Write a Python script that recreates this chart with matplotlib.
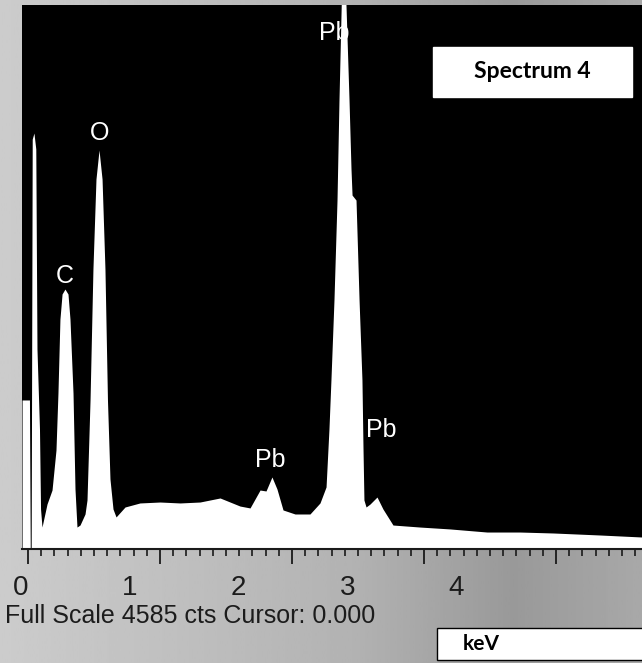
import numpy as np
import matplotlib
matplotlib.use("Agg")
import matplotlib.pyplot as plt
from matplotlib.patches import Rectangle

# ---- data ----
energy_kev = [-0.045, 0.011, 0.017, 0.024, 0.032, 0.045, 0.059, 0.068, 0.087, 0.095,
              0.106, 0.144, 0.182, 0.212, 0.227, 0.242, 0.258, 0.280, 0.303, 0.318,
              0.341, 0.356, 0.371, 0.394, 0.432, 0.447, 0.470, 0.492, 0.515, 0.538,
              0.561, 0.583, 0.602, 0.621, 0.644, 0.667, 0.735, 0.848, 1.000, 1.152,
              1.303, 1.455, 1.606, 1.682, 1.758, 1.803, 1.848, 1.886, 1.932, 2.023,
              2.136, 2.212, 2.258, 2.280, 2.295, 2.318, 2.341, 2.356, 2.383, 2.409,
              2.432, 2.447, 2.455, 2.485, 2.508, 2.530, 2.538, 2.545, 2.561, 2.591,
              2.644, 2.689, 2.765, 2.970, 3.197, 3.477, 3.727, 3.977, 4.333, 4.652]
counts = [1256, 1256, 0, 0, 3455, 3506, 3372, 1686, 1011, 337,
          185, 379, 497, 834, 1315, 1938, 2149, 2191, 2149, 1938,
          1315, 506, 185, 202, 295, 413, 1256, 2360, 3118, 3363,
          3118, 2360, 1256, 590, 337, 270, 354, 388, 396, 388,
          396, 430, 362, 346, 497, 489, 607, 506, 329, 295,
          295, 388, 523, 1011, 1424, 2099, 2941, 3784, 5057, 4585,
          3784, 3203, 2983, 2941, 2099, 1424, 843, 413, 354, 379,
          438, 337, 202, 185, 169, 143, 143, 135, 118, 101]

full_scale = 4585
x_ticks = [0, 1, 2, 3, 4]
peak_labels = ["C", "O", "Pb", "Pb", "Pb"]
label_kev = [0.280, 0.545, 2.318, 1.833, 2.674]
label_cts = [2301, 3506, 4349, 750, 1003]

# ---- figure ----
W, H = 642, 663
fig = plt.figure(figsize=(W / 100, H / 100), dpi=100)
fig.patch.set_facecolor("#b3b3b3")

# grey frame with a soft horizontal gradient
grad = np.interp(np.linspace(0, 1, 256), [0, 0.55, 0.8, 1.0], [0.80, 0.70, 0.60, 0.66])[None, :]
bg = fig.add_axes([0, 0, 1, 1], zorder=-5)
bg.imshow(grad, cmap="gray", vmin=0, vmax=1, aspect="auto", extent=[0, 1, 0, 1])
bg.set_axis_off()

ax = fig.add_axes([22 / W, 1 - 549 / H, 1 - 22 / W, (549 - 5) / H])
ax.set_facecolor("black")
ax.fill_between(energy_kev, counts, 0, color="white", lw=0)
ax.set_xlim(-0.0455, 4.6515)
ax.set_ylim(0, full_scale)
ax.set_yticks([])
for s in ["top", "right", "left"]:
    ax.spines[s].set_visible(False)
ax.spines["bottom"].set_color("#1a1a1a")
ax.spines["bottom"].set_linewidth(1.5)
ax.set_xticks(x_ticks)
ax.set_xticklabels([])
ax.set_xticks(np.arange(0, 4.65, 0.1), minor=True)
ax.tick_params(axis="x", which="major", length=11, width=1.3, color="#1a1a1a", direction="out")
ax.tick_params(axis="x", which="minor", length=5, width=1.2, color="#1a1a1a", direction="out")

for t, xk, yc in zip(peak_labels, label_kev, label_cts):
    ax.text(xk, yc, t, color="white", fontsize=18, ha="center", va="center",
            family=["Liberation Sans", "DejaVu Sans"])

# tick labels: drawn on a transparent axis, offset as in the picture
lab = fig.add_axes([0, 1 - 549 / H, 1, (549 - 5) / H], zorder=-1)
lab.patch.set_alpha(0)
for s in lab.spines.values():
    s.set_visible(False)
lab.set_yticks([])
lab.set_xlim(-21 / 108.75, 621 / 108.75)
lab.set_xticks(x_ticks)
lab.set_xticklabels([str(v) for v in x_ticks], fontsize=20, color="#1c1c1c",
                    family=["Liberation Sans", "DejaVu Sans"])
lab.tick_params(axis="x", length=0, pad=19)

fig.text(5 / W, 1 - 616 / H, f"Full Scale {full_scale} cts Cursor: 0.000",
         fontsize=18, color="#1c1c1c", ha="left", va="center",
         family=["Liberation Sans", "DejaVu Sans"])

# white label boxes
fig.patches.append(Rectangle((433 / W, 1 - 97 / H), 199 / W, 50 / H,
                             transform=fig.transFigure, facecolor="white",
                             edgecolor="white", zorder=5))
fig.text(532 / W, 1 - 72 / H, "Spectrum 4", fontsize=16.5, fontweight="bold",
         color="black", ha="center", va="center", family=["Lato", "DejaVu Sans"], zorder=6)
fig.patches.append(Rectangle((437 / W, 1 - 660 / H), 210 / W, 32 / H,
                             transform=fig.transFigure, facecolor="white",
                             edgecolor="black", lw=1, zorder=5))
fig.text(481 / W, 1 - 644 / H, "keV", fontsize=15, fontweight="bold",
         color="black", ha="center", va="center", family=["Lato", "DejaVu Sans"], zorder=6)

fig.savefig("out.png", dpi=100)
